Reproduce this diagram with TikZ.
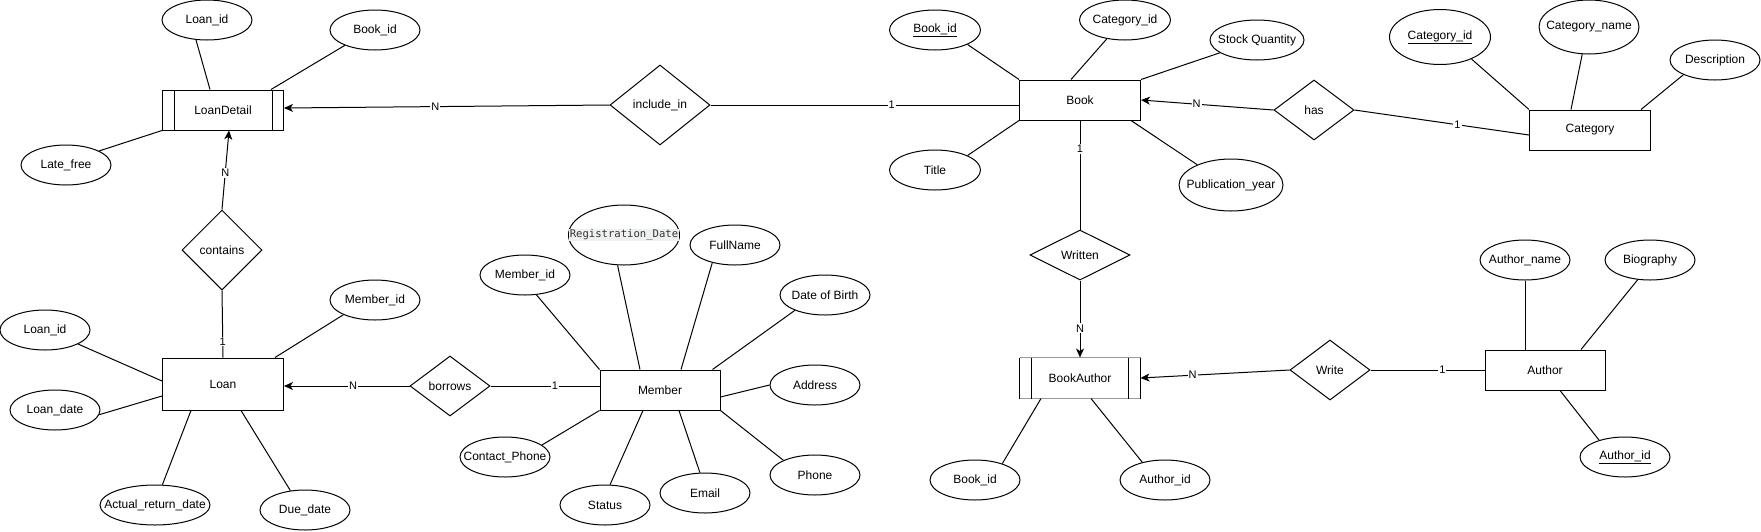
\documentclass[tikz,border=0pt]{standalone}
\usepackage{fontspec}
\setmainfont{Liberation Sans}
\newfontfamily\regmono{DejaVu Sans Mono}
\usetikzlibrary{shapes.geometric,arrows.meta,calc}
\definecolor{regbg}{HTML}{EFF0F1}
\definecolor{regtx}{HTML}{333333}
\newcommand\erlbl[1]{\makebox[0pt]{#1}}
\begin{document}
\begin{tikzpicture}[x=1pt,y=-1pt,
  every node/.style={font=\fontsize{12}{14}\selectfont},
  ent/.style={draw, rectangle, minimum width=121pt, minimum height=40pt, inner sep=0pt, line width=1pt},
  rel/.style={draw, diamond, shape aspect=2, inner sep=0pt, line width=1pt},
  att/.style={draw, ellipse, inner sep=0pt, minimum width=90pt, minimum height=40pt, line width=1pt},
  conn/.style={line width=1pt},
  arr/.style={conn, -{Stealth[length=9pt,width=8pt,inset=2.5pt]}},
  card/.style={fill=white, inner sep=1pt, font=\fontsize{11}{13}\selectfont}
]
\useasboundingbox (0,0) rectangle (1761,531);

% entities
\node[ent] (LD) at (223,110) {LoanDetail};
\node[ent, minimum height=52pt] (L) at (223,384) {Loan};
\node[ent, minimum width=120pt] (M) at (660,390) {Member};
\node[ent] (B) at (1080,100) {Book};
\node[ent] (CT) at (1590,130) {Category};
\node[ent, draw=none, minimum width=120pt] (BA) at (1080,378) {BookAuthor};
\node[ent, minimum width=120pt] (A) at (1545,370) {Author};

% weak entity decorations
\draw[conn] ([xshift=12pt]LD.north west) -- ([xshift=12pt]LD.south west);
\draw[conn] ([xshift=-12pt]LD.north east) -- ([xshift=-12pt]LD.south east);
\draw[gray!80, line width=1.8pt] (BA.north west) -- (BA.north east);
\draw[gray!80, line width=1.8pt] (BA.south west) -- (BA.south east);
\draw[conn] (BA.north west) -- (BA.south west);
\draw[conn] (BA.north east) -- (BA.south east);
\draw[conn] ([xshift=12pt]BA.north west) -- ([xshift=12pt]BA.south west);
\draw[conn] ([xshift=-12pt]BA.north east) -- ([xshift=-12pt]BA.south east);

% relationships
\node[rel, minimum width=100pt, minimum height=80pt] (IN) at (660,105) {include\_in};
\node[rel, minimum width=80pt, minimum height=80pt] (C) at (222,250) {contains};
\node[rel, minimum width=80pt, minimum height=60pt] (BR) at (450,386) {borrows};
\node[rel, minimum width=80pt, minimum height=60pt] (H) at (1314,110) {has};
\node[rel, minimum width=100pt, minimum height=50pt] (W) at (1080,255) {Written};
\node[rel, minimum width=80pt, minimum height=60pt] (WR) at (1330,370) {Write};

% attributes
\node[att] (LI1) at (207,20) {\erlbl{Loan\_id}};
\node[att] (BI1) at (375,30) {\erlbl{Book\_id}};
\node[att] (LF) at (66,165) {\erlbl{Late\_free}};
\node[att] (LI2) at (45,330) {\erlbl{Loan\_id}};
\node[att] (LDT) at (55,410) {\erlbl{Loan\_date}};
\node[att, minimum width=110pt] (ARD) at (155,505) {\erlbl{Actual\_return\_date}};
\node[att] (DD) at (305,510) {\erlbl{Due\_date}};
\node[att] (MI1) at (375,300) {\erlbl{Member\_id}};
\node[att, minimum width=111pt, minimum height=60pt] (RD) at (624,235) {\erlbl{\setlength{\fboxsep}{1pt}\colorbox{regbg}{\regmono\fontsize{10.6}{12}\selectfont\color{regtx}Registration\_Date}}};
\node[att] (MI2) at (525,275) {\erlbl{Member\_id}};
\node[att] (FN) at (735,245) {\erlbl{FullName}};
\node[att] (DOB) at (825,295) {\erlbl{Date of Birth}};
\node[att] (AD) at (815,385) {\erlbl{Address}};
\node[att] (PH) at (815,475) {\erlbl{Phone}};
\node[att] (EM) at (705,493) {\erlbl{Email}};
\node[att] (ST) at (605,505) {\erlbl{Status}};
\node[att] (CP) at (505,457) {\erlbl{Contact\_Phone}};
\node[att, minimum width=91pt] (BI2) at (935,30) {\erlbl{\underline{Book\_id}}};
\node[att, minimum width=91pt] (CI1) at (1125,20) {\erlbl{Category\_id}};
\node[att, minimum width=94pt] (SQ) at (1257,40) {\erlbl{Stock Quantity}};
\node[att, minimum width=91pt] (T) at (935,170) {\erlbl{Title}};
\node[att, minimum width=104pt, minimum height=52pt] (PY) at (1231,185) {\erlbl{Publication\_year}};
\node[att, minimum width=101pt, minimum height=55pt] (CI2) at (1440,37) {\erlbl{\underline{Category\_id}}};
\node[att, minimum width=100pt, minimum height=54pt] (CN) at (1589,27) {\erlbl{Category\_name}};
\node[att] (DS) at (1715,60) {\erlbl{Description}};
\node[att] (AN) at (1525,260) {\erlbl{Author\_name}};
\node[att] (BG) at (1650,260) {\erlbl{Biography}};
\node[att] (AI2) at (1625,457) {\erlbl{\underline{Author\_id}}};
\node[att] (BI3) at (975,480) {\erlbl{Book\_id}};
\node[att] (AI1) at (1165,480) {\erlbl{Author\_id}};

% attribute links
\draw[conn] (LI1.-119) -- ([xshift=-13pt]LD.north);
\draw[conn] (BI1.-153) -- ([xshift=48pt]LD.north);
\draw[conn] (LF.23) -- (LD.south west);
\draw[conn] (MI1.-155) -- ([xshift=52pt]L.north);
\draw[conn] (LI2.-23) -- ([yshift=3pt]L.west);
\draw[conn] (LDT.-6) -- ([yshift=-12pt]L.west);
\draw[conn] (ARD.70) -- ([xshift=-32pt]L.south);
\draw[conn] (DD.127) -- ([xshift=18pt]L.south);
\draw[conn] (RD.-102) -- ([xshift=-20pt]M.north);
\draw[conn] (MI2.-60) -- (M.north west);
\draw[conn] (FN.-142) -- ([xshift=21pt]M.north);
\draw[conn] (DOB.-153) -- ([xshift=-8pt]M.north east);
\draw[conn] (AD.180) -- ([yshift=-7pt]M.east);
\draw[conn] (PH.155) -- (M.south east);
\draw[conn] (EM.104) -- ([xshift=19pt]M.south);
\draw[conn] (ST.76) -- ([xshift=-17pt]M.south);
\draw[conn] (CP.18) -- (M.south west);
\draw[conn] (BI2.-24) -- (B.north west);
\draw[conn] (CI1.-134) -- ([xshift=-9pt]B.north);
\draw[conn] (SQ.-161) -- (B.north east);
\draw[conn] (T.24) -- (B.south west);
\draw[conn] (PY.149) -- ([xshift=-10pt]B.south east);
\draw[conn] (CI2.-35) -- (CT.north west);
\draw[conn] (CN.-104) -- ([xshift=-19pt]CT.north);
\draw[conn] (DS.-155) -- ([xshift=-10pt]CT.north east);
\draw[conn] (BI3.31) -- ([xshift=-39pt]BA.south);
\draw[conn] (AI1.142) -- ([xshift=11pt]BA.south);
\draw[conn] (AN.south) -- ([xshift=-20pt]A.north);
\draw[conn] (BG.-122) -- ([xshift=36pt]A.north);
\draw[conn] (AI2.147) -- ([xshift=15pt]A.south);

% relationship links
\draw[arr] (IN.west) -- node[card, pos=0.535] {N} ([yshift=2pt]LD.east);
\draw[conn] (IN.east) -- node[card, pos=0.587] {1} ([yshift=-5pt]B.west);
\draw[arr] (C.north) -- node[card, pos=0.46] {N} ([xshift=6pt]LD.south);
\draw[conn] (C.south) -- node[card, pos=0.76] {1} (L.north);
\draw[arr] (BR.west) -- node[card, pos=0.45] {N} ([yshift=-2pt]L.east);
\draw[conn] (BR.east) -- node[card, pos=0.59] {1} ([yshift=4pt]M.west);
\draw[arr] (H.west) -- node[card, pos=0.58] {N} (B.east);
\draw[conn] (H.east) -- node[card, pos=0.59] {1} ([yshift=-5pt]CT.west);
\draw[conn] (B.south) -- node[card, pos=0.26] {1} (W.north);
\draw[arr] (W.south) -- node[card, pos=0.62] {N} (BA.north);
\draw[arr] (WR.west) -- node[card, pos=0.65] {N} (BA.east);
\draw[conn] (WR.east) -- node[card, pos=0.63] {1} (A.west);
\end{tikzpicture}
\end{document}
